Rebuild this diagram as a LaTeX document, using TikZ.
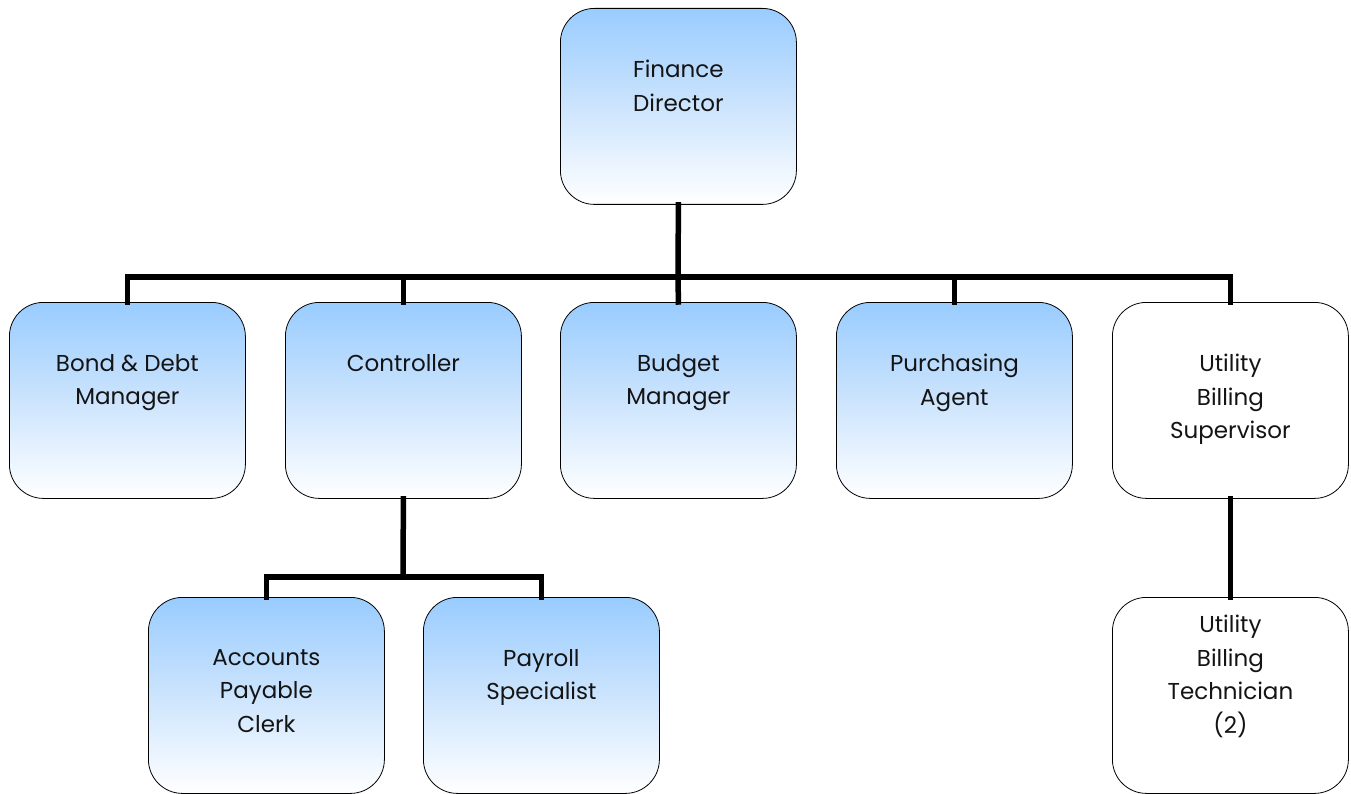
\documentclass[tikz,border=0pt]{standalone}
\usepackage{fontspec}
\setmainfont{Poppins}
\begin{document}
\begin{tikzpicture}[x=1pt,y=-1pt,
  box/.style={draw=black, line width=0.8pt, rounded corners=34pt, minimum width=236pt, minimum height=196pt, inner sep=0pt, anchor=north west},
  bluebox/.style={box, top color=blue1, bottom color=white, middle color=blue2},
  whitebox/.style={box, fill=white},
  lbl/.style={font=\fontsize{23}{33.5}\selectfont, align=center, anchor=north, inner sep=0pt, text=black!92},
  conn/.style={line width=5.5pt, line cap=rect}
]
\definecolor{blue1}{RGB}{153,204,255}
\definecolor{blue2}{RGB}{204,228,253}
\useasboundingbox (0,0) rectangle (1351,794);
% boxes
\node[bluebox] (fd) at (560,8) {};
\node[bluebox] (bd) at (9,302) {};
\node[bluebox] (ct) at (285,302) {};
\node[bluebox] (bm) at (560,302) {};
\node[bluebox] (pa) at (836,302) {};
\node[whitebox] (ub) at (1112,302) {};
\node[bluebox] (ap) at (148,597) {};
\node[bluebox] (ps) at (423,597) {};
\node[whitebox] (ut) at (1112,597) {};
% labels
\node[lbl] (tfd) at ([yshift=-52pt]fd.north) {Finance\\Director};
\node[lbl] (tbd) at ([yshift=-52pt]bd.north) {Bond \& Debt\\Manager};
\node[lbl] (tct) at ([yshift=-52pt]ct.north) {Controller};
\node[lbl] (tbm) at ([yshift=-52pt]bm.north) {Budget\\Manager};
\node[lbl] (tpa) at ([yshift=-52pt]pa.north) {Purchasing\\Agent};
\node[lbl] (tub) at ([yshift=-52pt]ub.north) {Utility\\Billing\\Supervisor};
\node[lbl] (tap) at ([yshift=-52pt]ap.north) {Accounts\\Payable\\Clerk};
\node[lbl] (tps) at ([yshift=-52pt]ps.north) {Payroll\\Specialist};
\node[lbl] (tut) at ([yshift=-18pt]ut.north) {Utility\\Billing\\Technician\\(2)};
% connectors
\coordinate (bar1) at (678,277);
\draw[conn] (fd.south) -- (bar1);
\draw[conn] (bd.north) |- (bar1) -| (ub.north);
\draw[conn] (ct.north) -- (ct.north |- bar1);
\draw[conn] (bm.north) -- (bar1);
\draw[conn] (pa.north) -- (pa.north |- bar1);
\coordinate (bar2) at (403,577);
\draw[conn] (ct.south) -- (bar2);
\draw[conn] (ap.north) |- (bar2) -| (ps.north);
\draw[conn] (ub.south) -- (ut.north);
\end{tikzpicture}
\end{document}
